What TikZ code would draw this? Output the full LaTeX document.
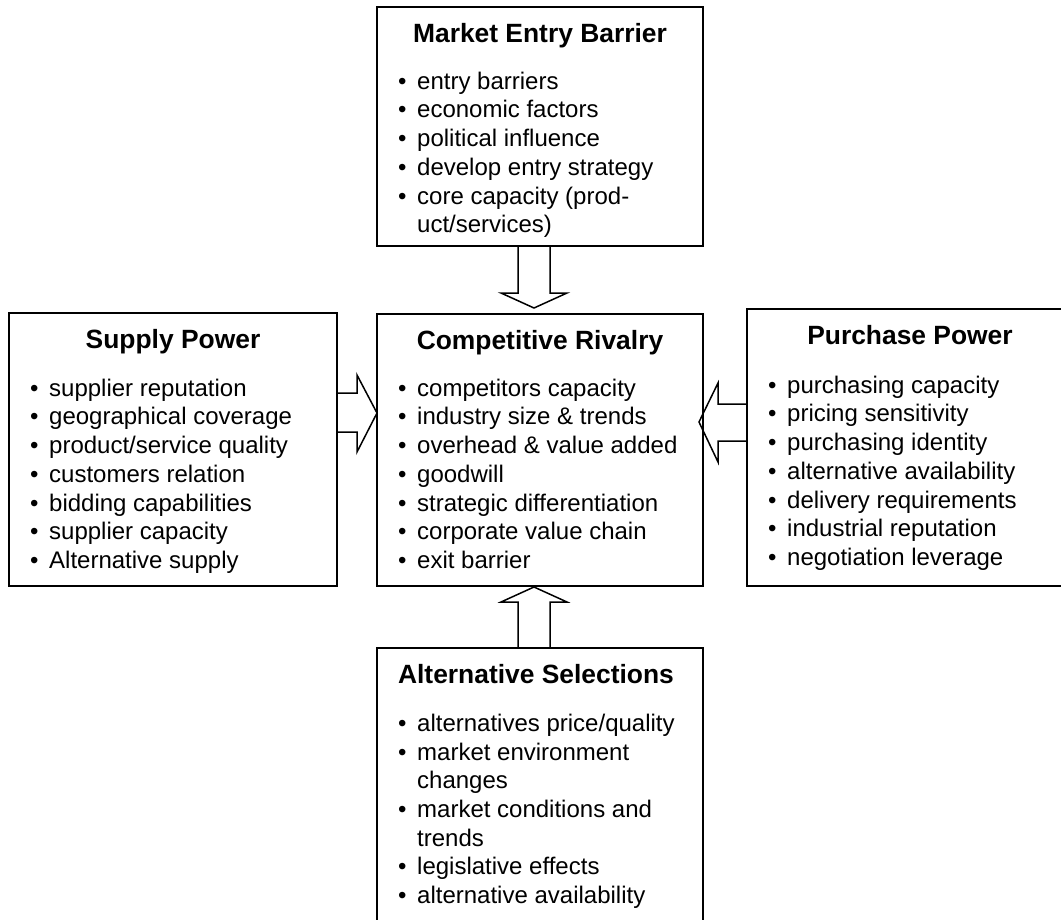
\documentclass[tikz,border=0pt]{standalone}
\usepackage{fontspec}
\setmainfont{Liberation Sans}
\usetikzlibrary{calc}

\newcommand{\itm}{\makebox[19pt][l]{\textbullet}}
\newcommand{\cont}{\hspace*{19pt}}

\begin{document}
\begin{tikzpicture}[x=1pt,y=-1pt,
  panel/.style={rectangle, draw=black, line width=2.2pt, inner sep=0pt, outer sep=0pt},
  head/.style={anchor=base, font=\fontsize{26.4}{30}\selectfont\bfseries},
  items/.style={anchor=north west, inner sep=0pt, align=left,
                font=\fontsize{24}{28.7}\selectfont},
  blockarrow/.style={draw=black, line width=1.5pt, line join=miter}
]
\useasboundingbox (0,0) rectangle (1061,919);
\fill[white] (0,0) rectangle (1061,919);
\clip (0,0) rectangle (1061,919);

% five forces
\node[panel, minimum width=326pt, minimum height=239pt] (mkt) at (540,126.5) {};
\node[panel, minimum width=326pt, minimum height=272pt] (riv) at (540,450) {};
\node[panel, minimum width=328pt, minimum height=273pt] (sup) at (173,449.5) {};
\node[panel, minimum width=326pt, minimum height=277pt] (pur) at (910,447.5) {};
\node[panel, minimum width=326pt, minimum height=287pt] (alt) at (540,791.5) {};

\node[head] (mkt-t) at ($(mkt.north)+(0,35)$) {Market Entry Barrier};
\node[items] (mkt-l) at ($(mkt.north west)+(21,62)$) {\strut\itm entry barriers\\
  \itm economic factors\\ \itm political influence\\ \itm develop entry strategy\\
  \itm core capacity (prod-\\ \cont uct/services)};

\node[head] (riv-t) at ($(riv.north)+(0,35)$) {Competitive Rivalry};
\node[items] (riv-l) at ($(riv.north west)+(21,62)$) {\strut\itm competitors capacity\\
  \itm industry size \& trends\\ \itm overhead \& value added\\ \itm goodwill\\
  \itm strategic differentiation\\ \itm corporate value chain\\ \itm exit barrier};

\node[head] (sup-t) at ($(sup.north)+(0,35)$) {Supply Power};
\node[items] (sup-l) at ($(sup.north west)+(21,63)$) {\strut\itm supplier reputation\\
  \itm geographical coverage\\ \itm product/service quality\\ \itm customers relation\\
  \itm bidding capabilities\\ \itm supplier capacity\\ \itm Alternative supply};

\node[head] (pur-t) at ($(pur.north)+(0,35)$) {Purchase Power};
\node[items] (pur-l) at ($(pur.north west)+(21,64)$) {\strut\itm purchasing capacity\\
  \itm pricing sensitivity\\ \itm purchasing identity\\ \itm alternative availability\\
  \itm delivery requirements\\ \itm industrial reputation\\ \itm negotiation leverage};

\node[head] (alt-t) at ($(alt.north)+(-4,35)$) {Alternative Selections};
\node[items] (alt-l) at ($(alt.north west)+(21,63)$) {\strut\itm alternatives price/quality\\
  \itm market environment\\ \cont changes\\ \itm market conditions and\\ \cont trends\\
  \itm legislative effects\\ \itm alternative availability};

% block arrows into the rivalry box
\draw[blockarrow] ($(mkt.south)+(-22,0)$) -- ($(riv.north)+(-22,-21)$)
  -- ($(riv.north)+(-39,-21)$) -- ($(riv.north)+(-6,-6)$) -- ($(riv.north)+(27,-21)$)
  -- ($(riv.north)+(10,-21)$) -- ($(mkt.south)+(10,0)$);
\draw[blockarrow] ($(alt.north)+(-22,0)$) -- ($(riv.south)+(-22,16)$)
  -- ($(riv.south)+(-39,16)$) -- ($(riv.south)+(-6,1)$) -- ($(riv.south)+(27,16)$)
  -- ($(riv.south)+(10,16)$) -- ($(alt.north)+(10,0)$);
\draw[blockarrow] ($(sup.east)+(0,-56.5)$) -- ($(riv.west)+(-20,-57)$)
  -- ($(riv.west)+(-20,-75)$) -- ($(riv.west)+(0,-37)$) -- ($(riv.west)+(-20,2)$)
  -- ($(riv.west)+(-20,-18)$) -- ($(sup.east)+(0,-17.5)$);
\draw[blockarrow] ($(pur.west)+(0,-43.5)$) -- ($(riv.east)+(15,-46)$)
  -- ($(riv.east)+(15,-67)$) -- ($(riv.east)+(-4,-28)$) -- ($(riv.east)+(15,12)$)
  -- ($(riv.east)+(15,-9)$) -- ($(pur.west)+(0,-6.5)$);
\end{tikzpicture}
\end{document}
